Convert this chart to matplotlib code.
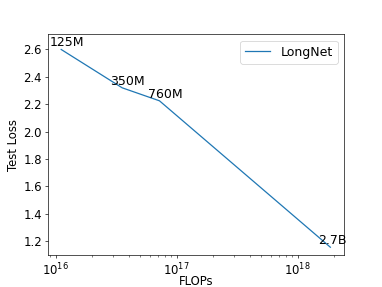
import matplotlib
matplotlib.use('Agg')
import matplotlib.pyplot as plt

# model sizes and their compute / loss
sizes = ['125M', '350M', '760M', '2.7B']
flops = [1.11e16, 3.54e16, 7.2e16, 1.86e18]
loss = [2.6, 2.32, 2.225, 1.155]

plt.rcParams['font.size'] = 14

fig = plt.figure(figsize=(382/60, 287/60), dpi=60)
ax = plt.gca()
plt.plot(flops, loss, label='LongNet')
for s, x, y in zip(sizes, flops, loss):
    plt.text(x * 0.8, y, s, ha='left', va='bottom', fontsize=15)
plt.xscale('log')
plt.ylim(1.095, 2.71)
plt.xlabel('FLOPs')
ax.xaxis.set_label_coords(0.5, -0.09)
plt.ylabel('Test Loss')
plt.legend(loc='upper right', fontsize=15)
plt.savefig('out.png', dpi=60)
